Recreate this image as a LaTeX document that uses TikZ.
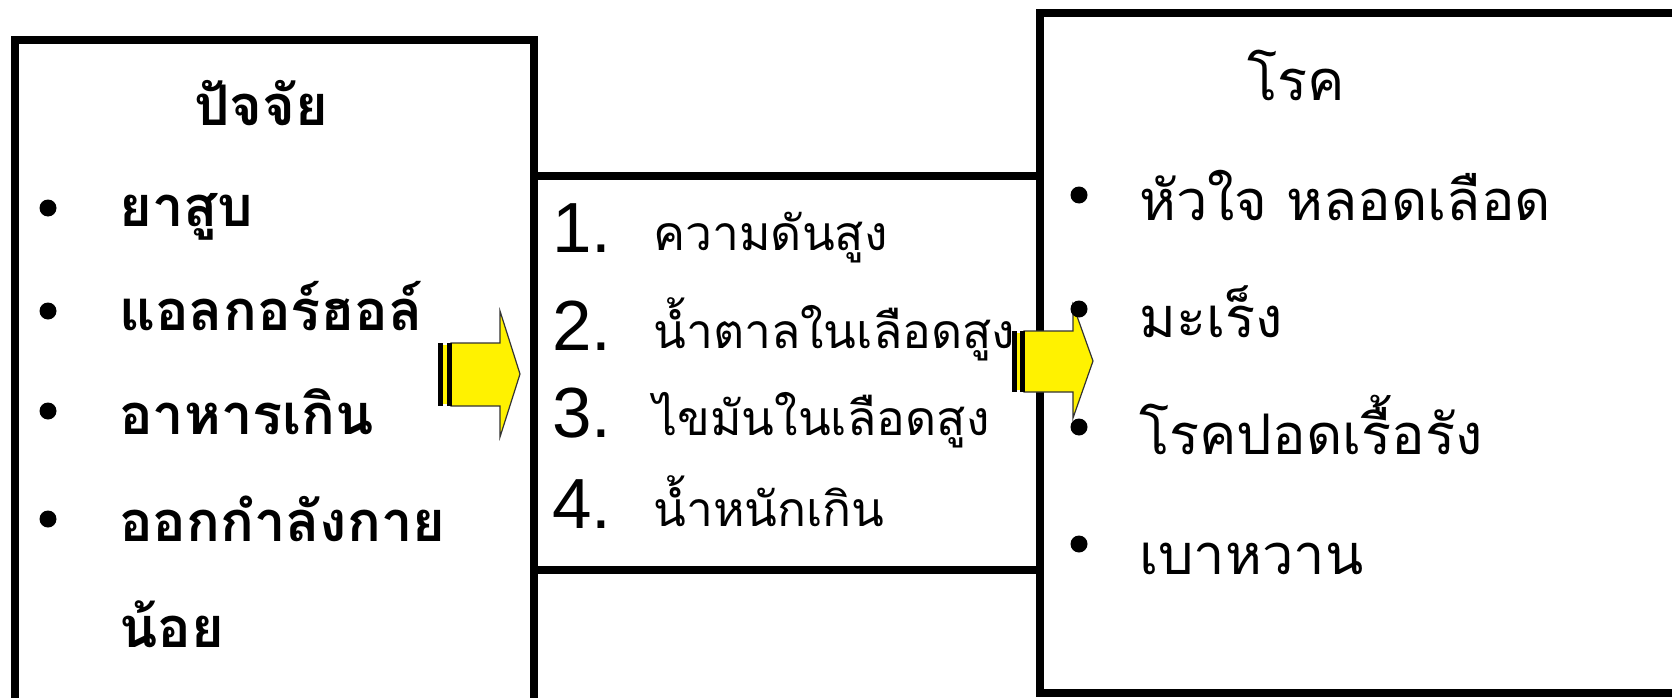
\documentclass[tikz,border=0pt]{standalone}
\usepackage{fontspec}
\newfontfamily\thaifont[Script=Thai]{Loma}
\newfontfamily\numfont{Liberation Sans}
\begin{document}
\begin{tikzpicture}[x=1pt,y=-1pt,
  boxline/.style={line width=8pt,draw=black},
  bul/.style={circle,fill=black,inner sep=0pt,minimum size=17pt},
  lefttxt/.style={anchor=base west,inner sep=0pt,font=\thaifont\bfseries\fontsize{56}{60}\selectfont},
  midnum/.style={anchor=base west,inner sep=0pt,font=\numfont\fontsize{71}{75}\selectfont},
  midtxt/.style={anchor=base west,inner sep=0pt,font=\thaifont\fontsize{48}{52}\selectfont},
  righttxt/.style={anchor=base west,inner sep=0pt,font=\thaifont\fontsize{56}{60}\selectfont},
  arrowbody/.style={fill=yellow,draw=black!80,line width=1.2pt,line join=miter},
  stripe/.style={fill=black,draw=none}
]
\useasboundingbox (0,0) rectangle (1672,698);
\clip (0,0) rectangle (1672,698);
% boxes
\draw[boxline] (15,40) rectangle (534,730);
\draw[boxline] (534,176) rectangle (1040,570);
\draw[boxline] (1040,13) rectangle (1720,693);
% left box
\node[anchor=base,inner sep=0pt,font=\thaifont\bfseries\fontsize{56}{60}\selectfont] (ltitle) at (261,126) {ปัจจัย};
\node[bul] (lb1) at (48,208) {};
\node[bul] (lb2) at (48,311) {};
\node[bul] (lb3) at (48,411) {};
\node[bul] (lb4) at (48,519) {};
\node[lefttxt] (l1) at (119,226) {ยาสูบ};
\node[lefttxt] (l2) at (119,330) {แอลกอร์ฮอล์};
\node[lefttxt] (l3) at (119,434) {อาหารเกิน};
\node[lefttxt] (l4) at (119,541) {ออกกำลังกาย};
\node[lefttxt] (l5) at (119,647) {น้อย};
% middle box
\node[midnum] (n1) at (552,252) {1.};
\node[midnum] (n2) at (552,350) {2.};
\node[midnum] (n3) at (552,437) {3.};
\node[midnum] (n4) at (552,528) {4.};
\node[midtxt] (m1) at (653,250) {ความดันสูง};
\node[midtxt] (m2) at (653,348) {น้ำตาลในเลือดสูง};
\node[midtxt] (m3) at (653,435) {ไขมันในเลือดสูง};
\node[midtxt] (m4) at (653,526) {น้ำหนักเกิน};
% right box
\node[anchor=base,inner sep=0pt,font=\thaifont\fontsize{56}{60}\selectfont] (rtitle) at (1296,101) {โรค};
\node[righttxt] (r1) at (1139,220) {หัวใจ หลอดเลือด};
\node[righttxt] (r2) at (1139,337) {มะเร็ง};
\node[righttxt] (r3) at (1139,454) {โรคปอดเรื้อรัง};
\node[righttxt] (r4) at (1139,574) {เบาหวาน};
% arrow 1
\draw[arrowbody] (451,343) -- (500,343) -- (500,311) -- (520,374) -- (500,437) -- (500,406) -- (451,406) -- cycle;
\fill[stripe] (438,343) rectangle (443,406);
\fill[yellow] (443,345) rectangle (447,404);
\fill[stripe] (447,343) rectangle (452,406);
% arrow 2
\draw[arrowbody] (1024,331) -- (1073,331) -- (1073,305) -- (1093,361) -- (1073,418) -- (1073,392) -- (1024,392) -- cycle;
\fill[stripe] (1012,331) rectangle (1017,392);
\fill[yellow] (1017,333) rectangle (1020,390);
\fill[stripe] (1020,331) rectangle (1025,392);
% right bullets
\node[bul] (rb1) at (1079,195) {};
\node[bul] (rb2) at (1079,309) {};
\node[bul] (rb3) at (1079,427) {};
\node[bul] (rb4) at (1079,544) {};
\end{tikzpicture}
\end{document}
